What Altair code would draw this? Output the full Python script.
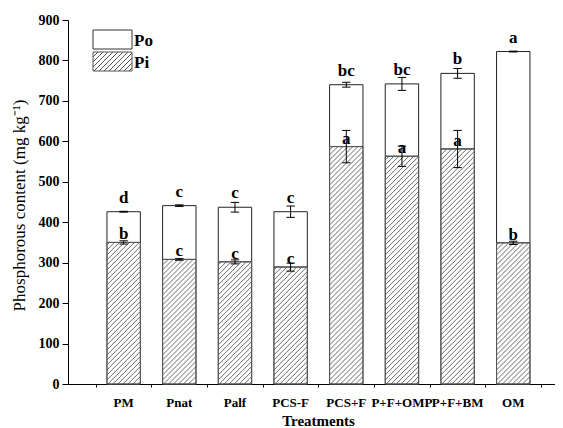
import altair as alt
import pandas as pd

# ---------------- data ----------------
treatments = ["PM", "Pnat", "Palf", "PCS-F", "PCS+F", "P+F+OMP", "P+F+BM", "OM"]
pi_values = [350, 308, 302, 289, 587, 563, 581, 349]
pi_err = [4, 2, 5, 10, 40, 25, 46, 4]
total_values = [426, 441, 437, 426, 740, 742, 768, 822]
total_err = [1, 2, 12, 14, 6, 16, 12, 1]
total_letters = ["d", "c", "c", "c", "bc", "bc", "b", "a"]
pi_letters = ["b", "c", "c", "c", "a", "a", "a", "b"]
legend_labels = ["Po", "Pi"]

# ---------------- layout / style ----------------
W, H = 487, 364
XMAX = 8.75
YMAX = 900
HALF = 0.3
CAP = 0.075
FONT = "Liberation Serif"
HATCH_STEP = 5.0      # px between hatch lines (horizontal)
HATCH_N = 70          # enough hatch lines for the tallest bar

px_per_x = W / XMAX
px_per_y = H / YMAX
bar_w = 2 * HALF * px_per_x

df = pd.DataFrame({
    "treatment": treatments,
    "idx": list(range(1, len(treatments) + 1)),
    "pi": pi_values,
    "pi_err": pi_err,
    "total": total_values,
    "total_err": total_err,
    "tl": total_letters,
    "pl": pi_letters,
})
df["ks"] = [list(range(HATCH_N)) for _ in treatments]


def hatch(w, h, period=5.0, line=1.0, color="#555555"):
    L = w + h
    stops = []
    k = 0
    while k * period < L:
        a = k * period / L
        b = min((k * period + line) / L, 1.0)
        c = min((k + 1) * period / L, 1.0)
        stops += [
            {"offset": a, "color": color},
            {"offset": b, "color": color},
            {"offset": b, "color": "white"},
            {"offset": c, "color": "white"},
        ]
        k += 1
    r = h / w
    s = (1 + r) / (1 + r * r)
    return {"gradient": "linear", "x1": 0, "y1": 0, "x2": s, "y2": s * r, "stops": stops}


xscale = alt.Scale(domain=[0, XMAX], nice=False, zero=False)
yscale = alt.Scale(domain=[0, YMAX], nice=False)

xaxis = alt.Axis(
    values=[v / 2 for v in range(1, 18)],
    labels=False,
    tickSize={"condition": {"test": "datum.value % 1 !== 0", "value": 3}, "value": 5},
    title="Treatments", titleFont=FONT, titleFontWeight="bold", titleFontSize=15,
    titleColor="black", titleX=250, titleY=36, titleBaseline="middle",
    domainColor="black", tickColor="black", grid=False,
)
yaxis = alt.Axis(
    values=list(range(0, 901, 50)),
    labelExpr="datum.value % 100 ? '' : datum.label",
    tickSize={"condition": {"test": "datum.value % 100 !== 0", "value": 3}, "value": 6},
    labelFont=FONT, labelFontWeight="bold", labelFontSize=14, labelColor="black",
    labelPadding=3, labelOverlap=False, labelFlush=False,
    title="Phosphorous content (mg kg⁻¹)", titleFont=FONT, titleFontWeight="normal",
    titleFontSize=17, titleColor="black", titleX=-49, titleY=185, titleAngle=270,
    titleAlign="center", titleBaseline="middle",
    domainColor="black", tickColor="black", grid=False,
)

base = alt.Chart(df).transform_calculate(
    x_lo=f"datum.idx - {HALF}", x_hi=f"datum.idx + {HALF}",
    c_lo=f"datum.idx - {CAP}", c_hi=f"datum.idx + {CAP}",
    t_hi="datum.total + datum.total_err", t_lo="datum.total - datum.total_err",
    p_hi="datum.pi + datum.pi_err", p_lo="datum.pi - datum.pi_err",
)

po_bars = base.mark_bar(fill="white", stroke="#222222", strokeWidth=1).encode(
    x=alt.X("x_lo:Q", scale=xscale, axis=xaxis),
    x2="x_hi:Q",
    y=alt.Y("pi:Q", scale=yscale, axis=yaxis),
    y2="total:Q",
)

pi_bars = base.mark_bar(fill="white", stroke="#555555", strokeWidth=1).encode(
    x="x_lo:Q", x2="x_hi:Q", y="pi:Q", y2=alt.datum(0)
)

# diagonal hatch lines inside the Pi bars, in pixel units relative to bar corner
hatch_lines = base.transform_flatten(["ks"]).transform_calculate(
    hpx=f"datum.pi * {px_per_y}",
    c=f"-{bar_w} + (datum.ks + 0.5) * {HATCH_STEP}",
).transform_filter("datum.c < datum.hpx").transform_calculate(
    xs="max(0, -datum.c)",
    xe=f"min({bar_w}, datum.hpx - datum.c)",
).transform_calculate(
    hx1=f"datum.x_lo + datum.xs / {px_per_x}",
    hy1=f"(datum.xs + datum.c) / {px_per_y}",
    hx2=f"datum.x_lo + datum.xe / {px_per_x}",
    hy2=f"(datum.xe + datum.c) / {px_per_y}",
).mark_rule(color="#444444", strokeWidth=0.8).encode(
    x="hx1:Q", y="hy1:Q", x2="hx2:Q", y2="hy2:Q"
)

pi_outline = base.mark_bar(fillOpacity=0, stroke="#555555", strokeWidth=1).encode(
    x="x_lo:Q", x2="x_hi:Q", y="pi:Q", y2=alt.datum(0)
)

err_layers = []
for hi, lo in [("t_hi", "t_lo"), ("p_hi", "p_lo")]:
    err_layers.append(base.mark_rule(color="black", strokeWidth=1).encode(
        x="idx:Q", y=f"{lo}:Q", y2=f"{hi}:Q"))
    for f in (hi, lo):
        err_layers.append(base.mark_rule(color="black", strokeWidth=1).encode(
            x="c_lo:Q", x2="c_hi:Q", y=f"{f}:Q"))

total_text = base.mark_text(
    font=FONT, fontWeight="bold", fontSize=17, dy=-9, baseline="alphabetic", color="black"
).encode(x="idx:Q", y="total:Q", text="tl:N")
pi_text = base.mark_text(
    font=FONT, fontWeight="bold", fontSize=17, dy=-3, baseline="alphabetic", color="black"
).encode(x="idx:Q", y="pi:Q", text="pl:N")

cat_labels = base.mark_text(
    font=FONT, fontWeight="bold", fontSize=13, baseline="middle", color="black"
).encode(x="idx:Q", y=alt.value(H + 19), text="treatment:N")

one = alt.Data(values=[{"k": 0}])
leg_po = alt.Chart(one).mark_rect(fill="white", stroke="#333333", strokeWidth=1).encode(
    x=alt.value(25), x2=alt.value(64), y=alt.value(10), y2=alt.value(29))
leg_pi = alt.Chart(one).mark_rect(fill=hatch(39, 19), stroke="#555555", strokeWidth=1).encode(
    x=alt.value(25), x2=alt.value(64), y=alt.value(32), y2=alt.value(51))
leg_t1 = alt.Chart(one).mark_text(
    font=FONT, fontWeight="bold", fontSize=17, align="left", baseline="middle", color="black"
).encode(x=alt.value(66), y=alt.value(21), text=alt.value(legend_labels[0]))
leg_t2 = alt.Chart(one).mark_text(
    font=FONT, fontWeight="bold", fontSize=17, align="left", baseline="middle", color="black"
).encode(x=alt.value(66), y=alt.value(43), text=alt.value(legend_labels[1]))

chart = alt.layer(
    po_bars, pi_bars, hatch_lines, pi_outline, *err_layers, total_text, pi_text,
    cat_labels, leg_po, leg_pi, leg_t1, leg_t2
).properties(
    width=W, height=H,
    autosize=alt.AutoSizeParams(type="none"),
    padding={"left": 60, "top": 12, "right": 0, "bottom": 44},
    background="white",
).configure_view(stroke=None)

chart.save("out.html", embed_options={"renderer": "svg", "actions": False})
